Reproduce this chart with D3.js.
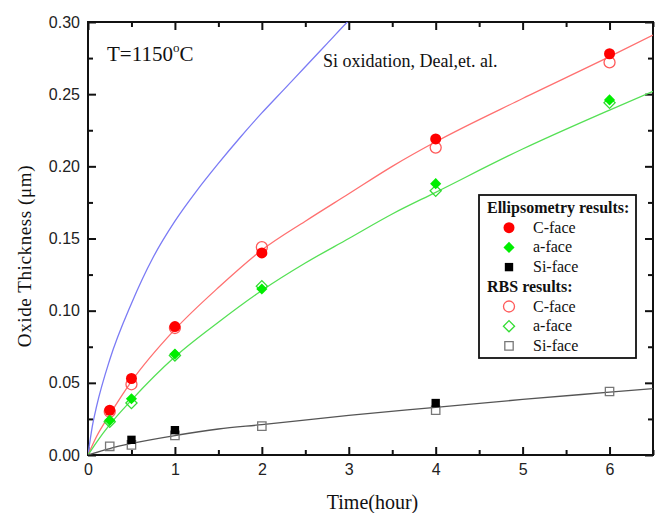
<!DOCTYPE html>
<html><head><meta charset="utf-8">
<script src="https://cdn.jsdelivr.net/npm/d3@7"></script>
<style>body{margin:0;background:#fff}</style>
</head><body><svg id="c" width="656" height="513"></svg>
<script>
// ---- data ----
const xTicks = [0,1,2,3,4,5,6];
const yTicks = [0,0.05,0.10,0.15,0.20,0.25,0.30];
const xMinor = [0.5,1.5,2.5,3.5,4.5,5.5,6.5];
const yMinor = [0.025,0.075,0.125,0.175,0.225,0.275];

const ellipC  = [[0.25,0.031],[0.5,0.053],[1,0.089],[2,0.140],[4,0.219],[6,0.278]];
const ellipA  = [[0.25,0.024],[0.5,0.039],[1,0.070],[2,0.115],[4,0.188],[6,0.246]];
const ellipSi = [[0.5,0.0105],[1,0.0172],[4,0.036]];
const rbsC    = [[0.25,0.030],[0.5,0.049],[1,0.088],[2,0.144],[4,0.213],[6,0.272]];
const rbsA    = [[0.25,0.023],[0.5,0.036],[1,0.069],[2,0.117],[4,0.183],[6,0.244]];
const rbsSi   = [[0.25,0.006],[0.5,0.007],[1,0.0136],[2,0.020],[4,0.031],[6,0.044]];

const fitC  = [[0,0],[0.1,0.013],[0.25,0.028],[0.5,0.051],[1,0.087],[1.5,0.116],[2,0.142],[2.5,0.162],[3,0.181],[3.5,0.200],[4,0.217],[5,0.247],[6,0.276],[6.5,0.291]];
const fitA  = [[0,0],[0.1,0.009],[0.25,0.021],[0.5,0.038],[1,0.068],[1.5,0.092],[2,0.114],[2.5,0.133],[3,0.150],[3.5,0.167],[4,0.182],[5,0.212],[6,0.239],[6.5,0.252]];
const fitSi = [[0,0],[0.25,0.0045],[0.5,0.008],[1,0.0135],[1.5,0.018],[2,0.021],[3,0.0275],[4,0.033],[5,0.0385],[6,0.0435],[6.5,0.046]];
const dealSi = [[0,0],[0.05,0.020],[0.1,0.034],[0.25,0.066],[0.5,0.105],[0.75,0.137],[1,0.162],[1.25,0.183],[1.5,0.202],[1.75,0.220],[2,0.237],[2.25,0.253],[2.5,0.269],[2.75,0.285],[3,0.301],[3.1,0.307]];

// ---- layout ----
const svg = d3.select("#c");
const L=88, R=653, T=22, B=455;
const x = d3.scaleLinear().domain([0,6.5]).range([L,R]);
const y = d3.scaleLinear().domain([0,0.30]).range([B,T]);

svg.append("defs").append("clipPath").attr("id","clip")
  .append("rect").attr("x",L).attr("y",T).attr("width",R-L).attr("height",B-T);

const tickFont = "'Liberation Sans', Arial, sans-serif";
function styleAxis(g){
  g.select(".domain").remove();
  g.selectAll(".tick line").attr("stroke","#111").attr("stroke-width",2);
  g.selectAll(".tick text").attr("font-family",tickFont).attr("font-size",16).attr("fill","#222");
}
// bottom
svg.append("g").attr("transform",`translate(0,${B})`)
  .call(d3.axisBottom(x).tickValues(xTicks).tickSize(-8).tickPadding(9).tickFormat(d3.format("d"))).call(styleAxis);
svg.append("g").attr("transform",`translate(0,${B})`)
  .call(d3.axisBottom(x).tickValues(xMinor).tickSize(-5).tickFormat("")).call(styleAxis);
// top
svg.append("g").attr("transform",`translate(0,${T})`)
  .call(d3.axisTop(x).tickValues(xTicks).tickSize(-8).tickFormat("")).call(styleAxis);
svg.append("g").attr("transform",`translate(0,${T})`)
  .call(d3.axisTop(x).tickValues(xMinor).tickSize(-5).tickFormat("")).call(styleAxis);
// left
svg.append("g").attr("transform",`translate(${L},0)`)
  .call(d3.axisLeft(y).tickValues(yTicks).tickSize(-8).tickPadding(8).tickFormat(d3.format(".2f"))).call(styleAxis);
svg.append("g").attr("transform",`translate(${L},0)`)
  .call(d3.axisLeft(y).tickValues(yMinor).tickSize(-5).tickFormat("")).call(styleAxis);
// right
svg.append("g").attr("transform",`translate(${R},0)`)
  .call(d3.axisRight(y).tickValues(yTicks).tickSize(-8).tickFormat("")).call(styleAxis);
svg.append("g").attr("transform",`translate(${R},0)`)
  .call(d3.axisRight(y).tickValues(yMinor).tickSize(-5).tickFormat("")).call(styleAxis);

// frame
svg.append("rect").attr("x",L).attr("y",T).attr("width",R-L).attr("height",B-T)
  .attr("fill","none").attr("stroke","#111").attr("stroke-width",2);

// curves
const line = d3.line().x(d=>x(d[0])).y(d=>y(d[1])).curve(d3.curveMonotoneX);
const curves = svg.append("g").attr("clip-path","url(#clip)");
[[dealSi,"#7b7bf5"],[fitC,"#ff7070"],[fitA,"#55e055"],[fitSi,"#555"]].forEach(([d,c])=>{
  curves.append("path").datum(d).attr("d",line).attr("fill","none").attr("stroke",c).attr("stroke-width",1.3);
});

// markers
const sym = {
  circle: d3.symbol().type(d3.symbolCircle).size(95),
  square: d3.symbol().type(d3.symbolSquare).size(70),
  diamond: d3.symbol().type(d3.symbolSquare).size(62)
};
function drawPts(data, kind, fill, stroke){
  svg.append("g").selectAll("path").data(data).join("path")
    .attr("d", sym[kind]())
    .attr("transform", d=>`translate(${x(d[0])},${y(d[1])})` + (kind==="diamond"?" rotate(45)":""))
    .attr("fill", fill).attr("stroke", stroke).attr("stroke-width", 1.3);
}
drawPts(rbsC,"circle","none","#ff5a5a");
drawPts(rbsA,"diamond","none","#33dd33");
drawPts(rbsSi,"square","none","#777");
drawPts(ellipC,"circle","#ff0000","none");
drawPts(ellipA,"diamond","#00ee00","none");
drawPts(ellipSi,"square","#000","none");

// annotations
const serif = "'Liberation Serif', 'Times New Roman', serif";
const tt = svg.append("text").attr("x",107).attr("y",61).attr("font-family",serif).attr("font-size",21).attr("fill","#111");
tt.append("tspan").text("T=1150");
tt.append("tspan").attr("dy",-9).attr("font-size",13).text("o");
tt.append("tspan").attr("dy",9).text("C");
svg.append("text").attr("x",323).attr("y",67).attr("font-family",serif).attr("font-size",18).attr("fill","#111")
  .text("Si oxidation, Deal,et. al.");

// axis titles
svg.append("text").attr("x",(L+R)/2+2).attr("y",509).attr("text-anchor","middle")
  .attr("font-family",serif).attr("font-size",20).attr("fill","#111").text("Time(hour)");
svg.append("text").attr("transform",`translate(31,256) rotate(-90)`).attr("text-anchor","middle")
  .attr("font-family",serif).attr("font-size",19).attr("letter-spacing",0.6).attr("fill","#111").text("Oxide Thickness (\u03bcm)");

// legend
const legend = [
  {t:"Ellipsometry results:", head:true},
  {t:"C-face", kind:"circle", fill:"#ff0000", stroke:"none"},
  {t:"a-face", kind:"diamond", fill:"#00ee00", stroke:"none"},
  {t:"Si-face", kind:"square", fill:"#000", stroke:"none"},
  {t:"RBS results:", head:true},
  {t:"C-face", kind:"circle", fill:"none", stroke:"#ff5a5a"},
  {t:"a-face", kind:"diamond", fill:"none", stroke:"#33dd33"},
  {t:"Si-face", kind:"square", fill:"none", stroke:"#777"}
];
const lg = svg.append("g");
lg.append("rect").attr("x",479).attr("y",195).attr("width",157).attr("height",163)
  .attr("fill","#fff").attr("stroke","#111").attr("stroke-width",1.8);
legend.forEach((d,i)=>{
  const by = 213 + i*19.7;
  if(d.head){
    lg.append("text").attr("x",487).attr("y",by).attr("font-family",serif).attr("font-weight","bold")
      .attr("font-size",16).attr("fill","#111").text(d.t);
  } else {
    lg.append("path").attr("d",sym[d.kind]())
      .attr("transform",`translate(509,${by-5})`+(d.kind==="diamond"?" rotate(45)":""))
      .attr("fill",d.fill).attr("stroke",d.stroke).attr("stroke-width",1.3);
    lg.append("text").attr("x",533).attr("y",by).attr("font-family",serif)
      .attr("font-size",16).attr("fill","#111").text(d.t);
  }
});
</script></body></html>
